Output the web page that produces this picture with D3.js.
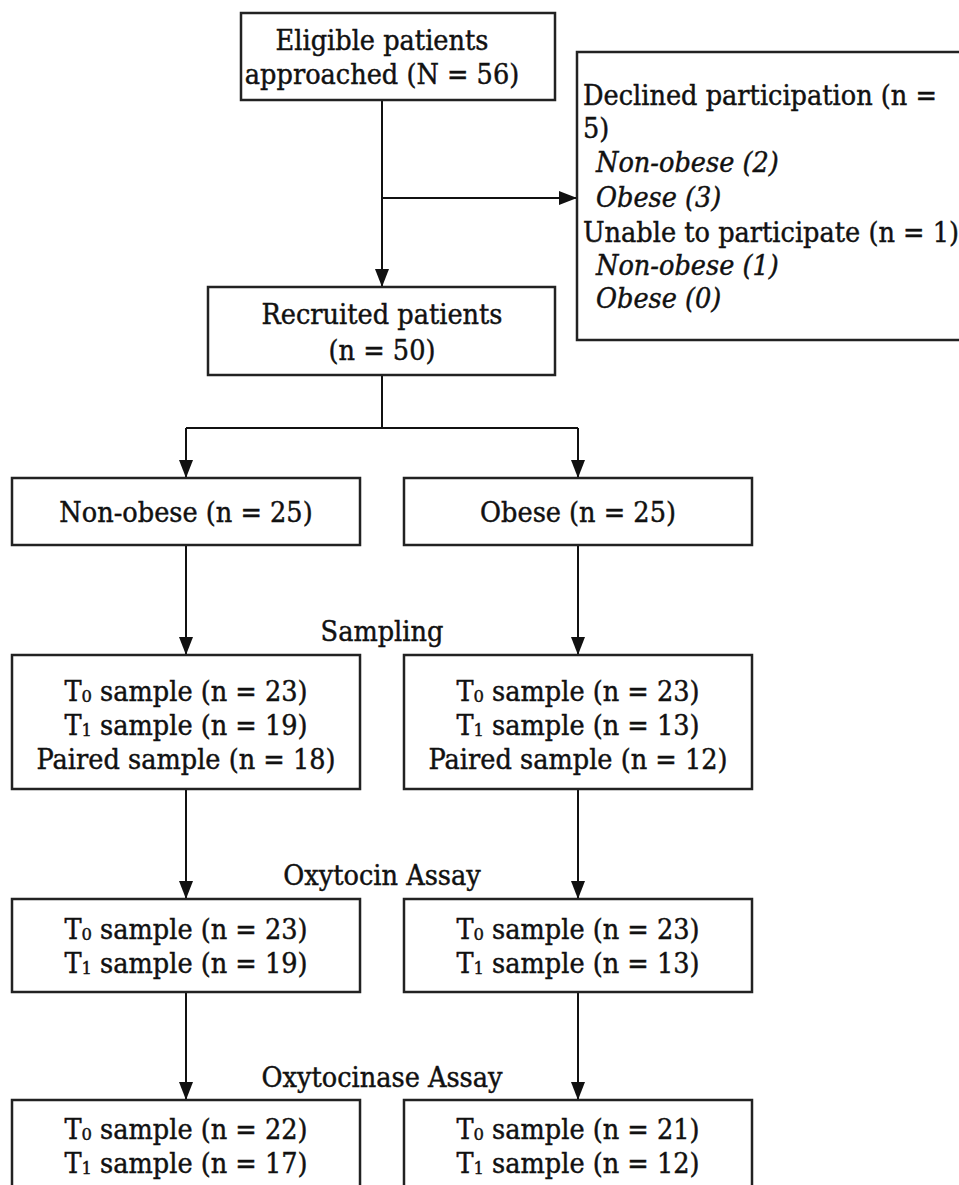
<!DOCTYPE html>
<html>
<head>
<meta charset="utf-8">
<script src="https://cdn.jsdelivr.net/npm/d3@7"></script>
<style>
  html, body { margin: 0; padding: 0; background: #fff; }
  svg { display: block; }
  text { font-family: "DejaVu Serif", serif; fill: #111; stroke: #111; stroke-width: 0.45px; }
</style>
</head>
<body>
<div id="chart"></div>
<script>
// ---------- data ----------
const groups = ["Non-obese", "Obese"];
const approachedN = 56;
const recruitedN = 50;
const declinedN = 5;
const declinedByGroup = [2, 3];
const unableN = 1;
const unableByGroup = [1, 0];
const groupN = [25, 25];
const stageLabels = ["Sampling", "Oxytocin Assay", "Oxytocinase Assay"];
const samplingT0 = [23, 23];
const samplingT1 = [19, 13];
const samplingPaired = [18, 12];
const oxytocinT0 = [23, 23];
const oxytocinT1 = [19, 13];
const oxytocinaseT0 = [22, 21];
const oxytocinaseT1 = [17, 12];

// ---------- layout ----------
const W = 959, H = 1185;
const FS = 27;
const svg = d3.select("#chart").append("svg").attr("width", W).attr("height", H);

const defs = svg.append("defs");
defs.append("marker").attr("id", "arr")
  .attr("viewBox", "0 0 18 14").attr("refX", 18).attr("refY", 7)
  .attr("markerWidth", 18).attr("markerHeight", 14)
  .attr("markerUnits", "userSpaceOnUse").attr("orient", "auto")
  .append("path").attr("d", "M0,0 L18,7 L0,14 Z").attr("fill", "#111");

const col = d3.scaleBand().domain(groups).range([12, 752]).paddingInner(0.1122).paddingOuter(0);
const cx = g => col(g) + col.bandwidth() / 2;
const mainX = 382;

// measure for horizontal condensation
const probe = svg.append("text").attr("font-size", FS).text("Eligible patients");
const sx = 213 / probe.node().getComputedTextLength();
probe.remove();

const lineG = svg.append("g").attr("stroke", "#111").attr("stroke-width", 2).attr("fill", "none");
const boxG = svg.append("g").attr("stroke", "#222").attr("stroke-width", 2.5).attr("fill", "#fff");
const textG = svg.append("g");

function box(x0, x1, y0, y1) {
  boxG.append("rect").attr("x", x0).attr("y", y0).attr("width", x1 - x0).attr("height", y1 - y0);
}
function line(pts, arrow) {
  const p = lineG.append("path").attr("d", d3.line()(pts));
  if (arrow) p.attr("marker-end", "url(#arr)");
}
// parts: array of [text, isSub]
function label(x, y, parts, opts = {}) {
  const t = textG.append("text")
    .attr("transform", `translate(${x},${y}) scale(${sx},1)`)
    .attr("text-anchor", opts.anchor || "middle")
    .attr("font-size", FS)
    .attr("font-style", opts.italic ? "italic" : "normal");
  (typeof parts === "string" ? [[parts, false]] : parts).forEach(([s, sub]) => {
    const ts = t.append("tspan").text(s);
    if (sub) ts.attr("font-size", FS * 0.64).attr("dy", 1);
    else ts.attr("dy", 0);
  });
  // reset dy after subscript
  t.selectAll("tspan").each(function(d, i, nodes) {
    if (i > 0 && nodes[i - 1].getAttribute("dy") === "1") d3.select(this).attr("dy", -1);
  });
  return t;
}

// top box
box(241, 555, 13, 100);
label(mainX, 50, "Eligible patients");
label(mainX, 84, `approached (N = ${approachedN})`);

// branch to excluded
line([[mainX, 100], [mainX, 287]], true);
line([[mainX, 198], [577, 198]], true);

// excluded box
box(577, 975, 52, 340);
const exLines = [
  [`Declined participation (n =`, false],
  [`${declinedN})`, false],
  [`${groups[0]} (${declinedByGroup[0]})`, true],
  [`${groups[1]} (${declinedByGroup[1]})`, true],
  [`Unable to participate (n = ${unableN})`, false],
  [`${groups[0]} (${unableByGroup[0]})`, true],
  [`${groups[1]} (${unableByGroup[1]})`, true]
];
const exY = [105, 138, 172, 207, 242, 275, 308];
exLines.forEach(([s, it], i) => {
  label(it ? 596 : 583, exY[i], s, { anchor: "start", italic: it });
});

// recruited
box(208, 555, 287, 375);
label(mainX, 324, "Recruited patients");
label(mainX, 360, `(n = ${recruitedN})`);

// split
line([[mainX, 375], [mainX, 428]]);
line([[cx(groups[0]), 428], [cx(groups[1]), 428]]);
groups.forEach(g => line([[cx(g), 428], [cx(g), 478]], true));

// group boxes
groups.forEach((g, i) => {
  box(col(g), col(g) + col.bandwidth(), 478, 545);
  label(cx(g), 522, `${g} (n = ${groupN[i]})`);
});

// stages
const stages = [
  { top: 655, bottom: 789, labelY: 641, from: 545,
    rows: i => [[["T", false], ["0", true], [` sample (n = ${samplingT0[i]})`, false]],
                [["T", false], ["1", true], [` sample (n = ${samplingT1[i]})`, false]],
                [[`Paired sample (n = ${samplingPaired[i]})`, false]]],
    ys: [701, 735, 769] },
  { top: 899, bottom: 992, labelY: 885, from: 789,
    rows: i => [[["T", false], ["0", true], [` sample (n = ${oxytocinT0[i]})`, false]],
                [["T", false], ["1", true], [` sample (n = ${oxytocinT1[i]})`, false]]],
    ys: [939, 973] },
  { top: 1100, bottom: 1205, labelY: 1087, from: 992,
    rows: i => [[["T", false], ["0", true], [` sample (n = ${oxytocinaseT0[i]})`, false]],
                [["T", false], ["1", true], [` sample (n = ${oxytocinaseT1[i]})`, false]]],
    ys: [1139, 1173] }
];
stages.forEach((st, si) => {
  groups.forEach((g, i) => {
    line([[cx(g), st.from], [cx(g), st.top]], true);
    box(col(g), col(g) + col.bandwidth(), st.top, st.bottom);
    st.rows(i).forEach((parts, r) => label(cx(g), st.ys[r], parts));
  });
  label(mainX, st.labelY, stageLabels[si]);
});
</script>
</body>
</html>
